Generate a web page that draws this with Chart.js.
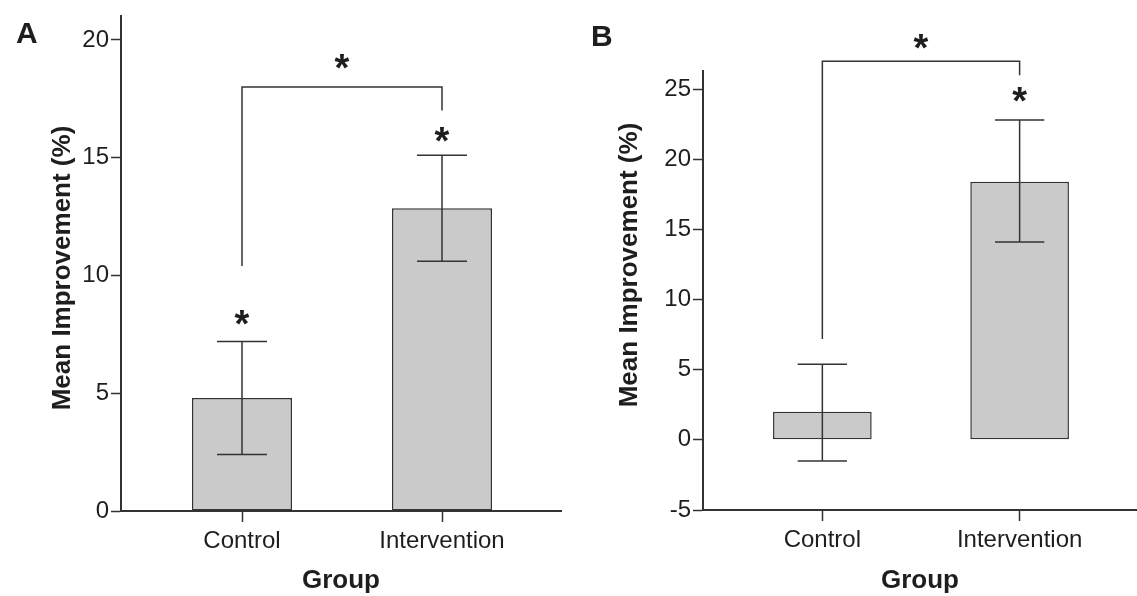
<!DOCTYPE html>
<html>
<head>
<meta charset="utf-8">
<script src="https://cdn.jsdelivr.net/npm/chart.js"></script>
<style>
  body { margin: 0; background: #fff; }
  canvas { position: absolute; top: 0; }
</style>
</head>
<body>
<canvas id="chartA" width="568" height="596" style="left:0"></canvas>
<canvas id="chartB" width="569" height="596" style="left:568px"></canvas>
<script>
  // categories sit at x = 1 and 2 on a linear axis
  const categories = ['Control', 'Intervention'];
  const catX = [1, 2];

  // panel A
  const meanA = [4.8, 12.85];
  const lowA = [2.4, 10.6];
  const highA = [7.2, 15.1];
  const ticksA = [0, 5, 10, 15, 20];
  const bracketA = [10.4, 18.0, 17.0]; // control end, top, intervention end
  const starsA = [[1, 8.2], [2, 16.0], [1.5, 19.1]];

  // panel B
  const meanB = [2.0, 18.4];
  const lowB = [-1.5, 14.1];
  const highB = [5.4, 22.8];
  const ticksB = [-5, 0, 5, 10, 15, 20, 25];
  const bracketB = [7.2, 27.0, 26.0];
  const starsB = [[2, 24.6], [1.5, 28.4]];

  const FONT = '"Liberation Sans", Arial, sans-serif';
  const INK = '#1e1e1e';
  const LINE = '#333';

  function makePanel(id, p) {
    const overlay = {
      id: 'overlay',
      afterDatasetsDraw(chart) {
        const ctx = chart.ctx, x = chart.scales.x, y = chart.scales.y;
        const meta = chart.getDatasetMeta(0);
        ctx.save();
        ctx.strokeStyle = LINE;
        ctx.lineWidth = 1.5;
        // error bars
        meta.data.forEach((bar, i) => {
          const cx = bar.x, half = bar.width / 4;
          const yl = y.getPixelForValue(p.low[i]), yh = y.getPixelForValue(p.high[i]);
          ctx.beginPath();
          ctx.moveTo(cx, yl); ctx.lineTo(cx, yh);
          ctx.moveTo(cx - half, yl); ctx.lineTo(cx + half, yl);
          ctx.moveTo(cx - half, yh); ctx.lineTo(cx + half, yh);
          ctx.stroke();
        });
        // significance bracket
        const x0 = x.getPixelForValue(catX[0]), x1 = x.getPixelForValue(catX[1]);
        ctx.beginPath();
        ctx.moveTo(x0, y.getPixelForValue(p.bracket[0]));
        ctx.lineTo(x0, y.getPixelForValue(p.bracket[1]));
        ctx.lineTo(x1, y.getPixelForValue(p.bracket[1]));
        ctx.lineTo(x1, y.getPixelForValue(p.bracket[2]));
        ctx.stroke();
        // asterisks
        ctx.fillStyle = INK;
        ctx.font = 'bold 38px ' + FONT;
        ctx.textAlign = 'center';
        ctx.textBaseline = 'alphabetic';
        const m = ctx.measureText('*');
        const mid = (m.actualBoundingBoxAscent - m.actualBoundingBoxDescent) / 2;
        p.stars.forEach(s => ctx.fillText('*', x.getPixelForValue(s[0]), y.getPixelForValue(s[1]) + mid));
        // panel letter
        ctx.textAlign = 'left';
        ctx.font = 'bold 30px ' + FONT;
        ctx.fillText(p.letter, p.letterX, p.letterY);
        // y title
        ctx.translate(p.titleX, p.titleY);
        ctx.rotate(-Math.PI / 2);
        ctx.textAlign = 'center';
        ctx.textBaseline = 'middle';
        ctx.font = 'bold 26px ' + FONT;
        ctx.fillText('Mean Improvement (%)', 0, 0);
        ctx.restore();
      }
    };

    new Chart(document.getElementById(id), {
      type: 'bar',
      data: {
        datasets: [{
          data: catX.map((v, i) => ({ x: v, y: p.mean[i] })),
          backgroundColor: '#cacaca',
          borderColor: LINE,
          borderWidth: 1.5,
          borderSkipped: false,
          barPercentage: 0.5,
          categoryPercentage: 1
        }]
      },
      options: {
        responsive: false,
        animation: false,
        layout: { padding: { top: p.top, right: p.right, left: 0, bottom: 0 } },
        plugins: { legend: { display: false }, tooltip: { enabled: false } },
        scales: {
          x: {
            type: 'linear',
            offset: false,
            min: 0.395,
            max: 2.595,
            afterBuildTicks: s => { s.ticks = catX.map(v => ({ value: v })); },
            afterFit: s => { s.height = p.xHeight; },
            ticks: {
              callback: (v, i) => categories[i],
              font: { size: 24, family: FONT },
              color: INK,
              padding: 5,
              maxRotation: 0
            },
            grid: { offset: false, drawOnChartArea: false, tickLength: 11, color: LINE, tickWidth: 1.5 },
            border: { color: LINE, width: 2 },
            title: {
              display: true,
              text: 'Group',
              font: { size: 26, weight: 'bold', family: FONT },
              color: INK,
              padding: { top: 0, bottom: 0 }
            }
          },
          y: {
            min: p.min,
            max: p.max,
            afterBuildTicks: s => { s.ticks = p.ticks.map(v => ({ value: v })); },
            afterFit: s => { s.width = p.yWidth; },
            ticks: { font: { size: 24, family: FONT }, color: INK, padding: 2 },
            grid: { drawOnChartArea: false, tickLength: 10, color: LINE, tickWidth: 1.5 },
            border: { color: LINE, width: 2 }
          }
        }
      },
      plugins: [overlay]
    });
  }

  makePanel('chartA', {
    mean: meanA, low: lowA, high: highA, ticks: ticksA, bracket: bracketA, stars: starsA,
    min: 0, max: 21.0, top: 12, right: 7, xHeight: 85, yWidth: 121,
    letter: 'A', letterX: 16, letterY: 43, titleX: 63, titleY: 268
  });

  makePanel('chartB', {
    mean: meanB, low: lowB, high: highB, ticks: ticksB, bracket: bracketB, stars: starsB,
    min: -5, max: 26.3, top: 71, right: 0, xHeight: 86, yWidth: 135,
    letter: 'B', letterX: 23, letterY: 46, titleX: 62, titleY: 265
  });
</script>
</body>
</html>
